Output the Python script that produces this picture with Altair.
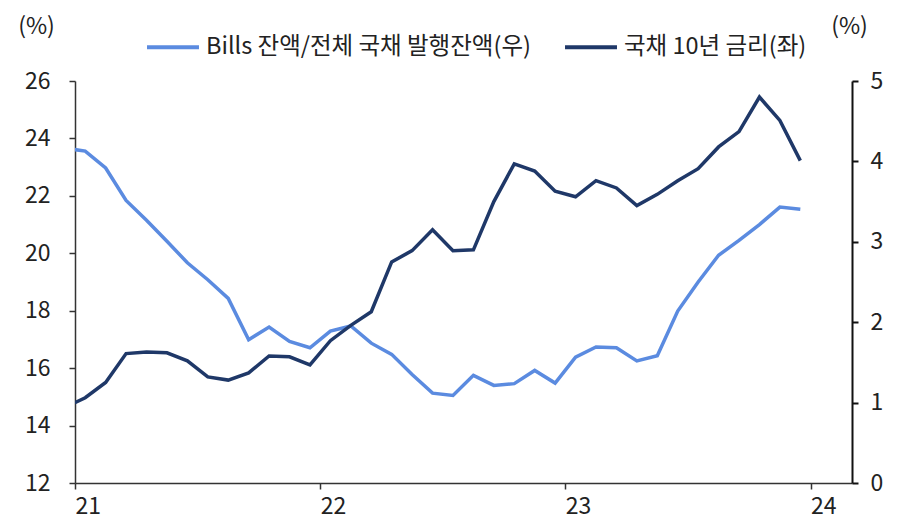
import altair as alt
import pandas as pd

# monthly observations, Dec 2020 .. Dec 2023
months = pd.date_range("2020-12-01", "2023-12-01", freq="MS").strftime("%Y-%m").tolist()

bills_share = [23.66,
               23.56, 22.97, 21.84, 21.15, 20.42, 19.67, 19.08, 18.43, 16.99, 17.43, 16.93, 16.71,
               17.29, 17.47, 16.87, 16.48, 15.78, 15.13, 15.05, 15.75, 15.40, 15.46, 15.92, 15.48,
               16.38, 16.74, 16.71, 16.25, 16.43, 17.99, 19.00, 19.93, 20.45, 21.00, 21.61, 21.53]

ust10y = [0.94,
          1.06, 1.25, 1.61, 1.63, 1.62, 1.52, 1.32, 1.28, 1.37, 1.58, 1.57, 1.47,
          1.77, 1.96, 2.13, 2.75, 2.89, 3.15, 2.89, 2.90, 3.50, 3.97, 3.88, 3.63,
          3.56, 3.76, 3.67, 3.45, 3.59, 3.76, 3.91, 4.18, 4.37, 4.80, 4.51, 4.01]

label_bills = "Bills 잔액/전체 국채 발행잔액(우)"
label_yield = "국채 10년 금리(좌)"

x_ticks = [0, 12, 24, 36]
left_ticks = [12, 14, 16, 18, 20, 22, 24, 26]
right_ticks = [0, 1, 2, 3, 4, 5]

LIGHT = "#5B8BE0"
DARK = "#1F3868"
FONT = "Noto Sans CJK KR"

# month index measured from Jan 2021, point placed mid-month
def month_pos(m):
    y, mo = map(int, m.split("-"))
    return (y - 2021) * 12 + (mo - 1) + 0.5

rows = []
for m, b, r in zip(months, bills_share, ust10y):
    rows.append({"t": month_pos(m), "value": b, "series": label_bills})
    rows.append({"t": month_pos(m), "value": r, "series": label_yield})
df = pd.DataFrame(rows)

x_enc = alt.X(
    "t:Q",
    scale=alt.Scale(domain=[0, 38.03], nice=False, zero=False),
    axis=alt.Axis(
        values=x_ticks,
        labelExpr="toString(21 + datum.value / 12)",
        title=None,
        grid=False,
        tickSize=6,
        labelPadding=6,
        labelAlign="left",
        labelBaseline="top",
        labelFontSize=23,
        labelFont=FONT,
        labelColor="#222222",
        domainColor="#333333",
        tickColor="#333333",
        domainWidth=1.5,
        tickWidth=1.5,
    ),
)

color_enc = alt.Color(
    "series:N",
    scale=alt.Scale(domain=[label_bills, label_yield], range=[LIGHT, DARK]),
    legend=alt.Legend(
        orient="none",
        legendX=70,
        legendY=-62,
        direction="horizontal",
        title=None,
        symbolType="stroke",
        symbolSize=2700,
        symbolStrokeWidth=4,
        labelFontSize=23.5,
        labelFont=FONT,
        labelColor="#222222",
        labelOffset=5,
        labelLimit=0,
        columnPadding=26,
        padding=0,
    ),
)

left = (
    alt.Chart(df)
    .transform_filter(alt.datum.series == label_bills)
    .mark_line(strokeWidth=3.5, clip=True)
    .encode(
        x=x_enc,
        y=alt.Y(
            "value:Q",
            scale=alt.Scale(domain=[12, 26], nice=False, zero=False),
            axis=alt.Axis(
                orient="left",
                values=left_ticks,
                title="(%)",
                titleAngle=0,
                titleAlign="center",
                titleBaseline="middle",
                titleX=-39,
                titleY=-55,
                titleFontSize=23,
                titleFontWeight="normal",
                titleFont=FONT,
                titleColor="#222222",
                grid=False,
                tickSize=6,
                labelPadding=19,
                labelFontSize=23,
                labelFont=FONT,
                labelColor="#222222",
                domainColor="#333333",
                tickColor="#333333",
                domainWidth=1.5,
                tickWidth=1.5,
            ),
        ),
        color=color_enc,
    )
)

right = (
    alt.Chart(df)
    .transform_filter(alt.datum.series == label_yield)
    .mark_line(strokeWidth=3.5, clip=True)
    .encode(
        x=x_enc,
        y=alt.Y(
            "value:Q",
            scale=alt.Scale(domain=[0, 5], nice=False, zero=False),
            axis=alt.Axis(
                orient="right",
                values=right_ticks,
                title="(%)",
                titleAngle=0,
                titleAlign="center",
                titleBaseline="middle",
                titleX=-3,
                titleY=-55,
                titleFontSize=23,
                titleFontWeight="normal",
                titleFont=FONT,
                titleColor="#222222",
                grid=False,
                tickSize=6,
                labelPadding=12,
                labelFontSize=23,
                labelFont=FONT,
                labelColor="#222222",
                domainColor="#111111",
                tickColor="#111111",
                domainWidth=2,
                tickWidth=2,
            ),
        ),
        color=color_enc,
    )
)

chart = (
    alt.layer(left, right)
    .resolve_scale(y="independent")
    .properties(
        width=777,
        height=402,
        autosize=alt.AutoSizeParams(type="none"),
        padding={"left": 67, "top": 73, "right": 40, "bottom": 38},
    )
    .configure_view(stroke=None)
)

chart.save("out.html", embed_options={"renderer": "svg", "actions": False})
